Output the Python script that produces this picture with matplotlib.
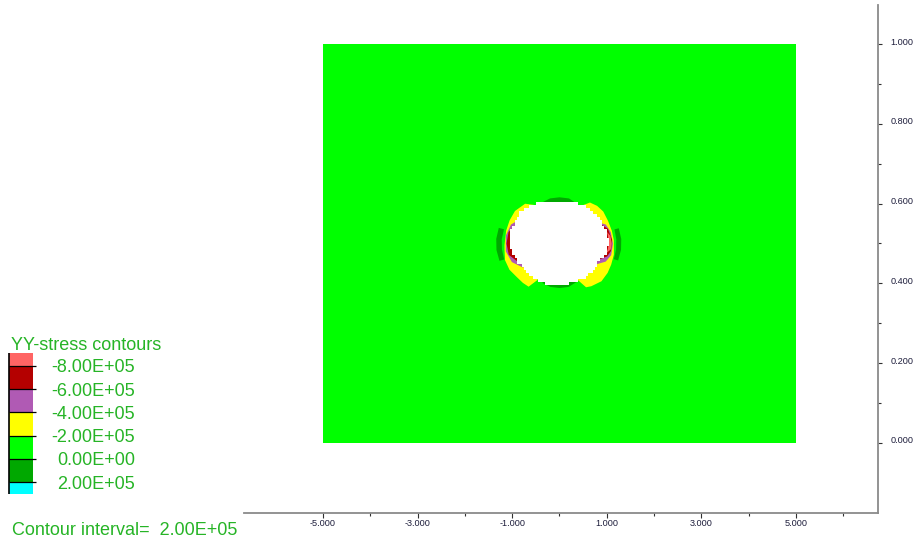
import numpy as np
import matplotlib
matplotlib.use("Agg")
import matplotlib.pyplot as plt
from matplotlib.patches import Polygon
from matplotlib.path import Path
from matplotlib.colors import ListedColormap
from matplotlib.ticker import FixedLocator, FixedFormatter
from matplotlib.transforms import ScaledTranslation

plt.rcParams['font.family'] = ['Liberation Sans', 'DejaVu Sans']
plt.rcParams['axes.unicode_minus'] = False

# ---- contour key -------------------------------------------------------
levels = [-8.0e5, -6.0e5, -4.0e5, -2.0e5, 0.0, 2.0e5]
band_colors = ['#ff6464', '#b40000', '#b05ab4', '#ffff00',
               '#00ff00', '#00a800', '#00ffff']
contour_interval = 2.0e5
title_text = 'YY-stress contours'

# ---- axis ticks --------------------------------------------------------
x_major = [-5.0, -3.0, -1.0, 1.0, 3.0, 5.0]
x_minor = [-4.0, -2.0, 0.0, 2.0, 4.0, 6.0]
y_major = [0.0, 0.2, 0.4, 0.6, 0.8, 1.0]
y_minor = [0.1, 0.3, 0.5, 0.7, 0.9]

# ---- model block and opening ---------------------------------------------
block_x = [-5.0, 5.0]
block_y = [0.0, 1.0]
hole_center = (0.0, 0.5)
hole_axes = (1.057, 0.1054)          # semi-axes of the reference ellipse
zone_size = (0.05, 0.0075)           # zone width / height used for the opening

# opening outline, polar angle (deg) and radius relative to the ellipse
hole_theta = [0, 15, 30, 45, 60, 75, 90, 105, 120, 135, 150, 165,
              180, 195, 210, 225, 240, 255, 270, 285, 300, 315, 330, 345]
hole_r = [0.985, 0.985, 0.995, 1.01, 1.04, 1.03, 1.01, 1.06, 1.09, 1.09,
          1.04, 1.03, 1.02, 0.975, 0.95, 0.95, 1.0, 1.01, 0.99, 0.98,
          0.97, 0.93, 0.905, 0.96]

# -4E5..-2E5 band (yellow), right and left flanks
yel_r_theta = [64, 58, 50, 41, 29, 16, 4, -14, -26, -36, -47, -58, -63, -67]
yel_r_out = [1.0, 1.15, 1.17, 1.16, 1.11, 1.09, 1.09, 1.12, 1.15, 1.19,
             1.23, 1.20, 1.17, 0.95]
yel_l_theta = [119, 126, 139, 151, 164, 182, 188, 200, 212, 223, 232, 239, 243]
yel_l_out = [1.05, 1.17, 1.18, 1.14, 1.11, 1.10, 1.11, 1.16, 1.18, 1.17,
             1.19, 1.20, 0.98]

# -6E5..-4E5 band (purple)
pur_r_theta = [31, 26, 15, 0, -15, -25, -33]
pur_r_out = [0.95, 1.03, 1.06, 1.07, 1.07, 1.02, 0.90]
pur_l_theta = [147, 155, 170, 190, 205, 218]
pur_l_out = [1.0, 1.07, 1.09, 1.09, 1.05, 0.93]

# -8E5..-6E5 band (dark red)
red_r_theta = [27, 20, 5, -10, -18, -24]
red_r_out = [0.96, 1.03, 1.055, 1.045, 1.0, 0.90]
red_l_theta = [157, 165, 180, 195, 206]
red_l_out = [1.0, 1.055, 1.06, 1.05, 0.95]

# below -8E5 (light red), thin strip on the right wall
pk_theta = [16, 10, 0, -8, -14]
pk_in = [0.99, 0.985, 0.985, 0.975, 0.96]
pk_out = [0.99, 1.035, 1.045, 1.035, 0.96]

# 0..2E5 band (dark green): crown and invert caps, side strips
cap_top_theta = [68, 80, 90, 100, 112]
cap_top_out = [1.0, 1.09, 1.10, 1.09, 1.03]
cap_bot_theta = [250, 260, 270, 280, 292]
cap_bot_out = [1.0, 1.05, 1.06, 1.05, 0.97]
bar_r_theta = [-19, -7, 5, 17]
bar_r_in = [1.15, 1.14, 1.14, 1.15]
bar_r_out = [1.24, 1.24, 1.24, 1.24]
bar_l_theta = [163, 175, 187, 199]
bar_l_in = [1.16, 1.16, 1.16, 1.17]
bar_l_out = [1.27, 1.27, 1.27, 1.27]


def ellipse_xy(theta_deg, r):
    t = np.radians(np.asarray(theta_deg, float))
    r = np.asarray(r, float)
    x = hole_center[0] + hole_axes[0] * r * np.cos(t)
    y = hole_center[1] + hole_axes[1] * r * np.sin(t)
    return np.column_stack([x, y])


def sector(theta, r_out):
    pts = ellipse_xy(theta, r_out)
    return np.vstack([[hole_center], pts])


def band(theta, r_in, r_out):
    return np.vstack([ellipse_xy(theta, r_out), ellipse_xy(theta[::-1], r_in[::-1])])


fig = plt.figure(figsize=(9.18, 5.44), dpi=100)
W, H = 918.0, 544.0

# ---- main plot -------------------------------------------------------------
ax = fig.add_axes([244 / W, (H - 512.7) / H, (877.5 - 244) / W, (512.7 - 5) / H])
ax.set_xlim(-6.670, 6.723)
ax.set_ylim(-0.1757, 1.0986)

ax.fill([block_x[0], block_x[1], block_x[1], block_x[0]],
        [block_y[0], block_y[0], block_y[1], block_y[1]],
        color=band_colors[4], lw=0, zorder=1)

shapes = [
    (sector(yel_r_theta, yel_r_out), 3),
    (sector(yel_l_theta, yel_l_out), 3),
    (sector(cap_top_theta, cap_top_out), 5),
    (sector(cap_bot_theta, cap_bot_out), 5),
    (sector(pur_r_theta, pur_r_out), 2),
    (sector(pur_l_theta, pur_l_out), 2),
    (sector(red_r_theta, red_r_out), 1),
    (sector(red_l_theta, red_l_out), 1),
    (band(pk_theta, pk_in, pk_out), 0),
]
for z, (pts, idx) in enumerate(shapes):
    ax.add_patch(Polygon(pts, closed=True, facecolor=band_colors[idx],
                         edgecolor='none', lw=0, zorder=2 + z * 0.01))

# opening: filled zone by zone, so its outline steps like the mesh
hole_path = Path(ellipse_xy(hole_theta, hole_r))
gx = np.arange(hole_center[0] - 1.4, hole_center[0] + 1.4 + 1e-9, zone_size[0])
gy = np.arange(hole_center[1] - 0.135, hole_center[1] + 0.135 + 1e-9, zone_size[1])
cx, cy = np.meshgrid(0.5 * (gx[:-1] + gx[1:]), 0.5 * (gy[:-1] + gy[1:]))
inside = hole_path.contains_points(np.column_stack([cx.ravel(), cy.ravel()]))
mask = np.ma.masked_where(~inside.reshape(cx.shape), np.ones(cx.shape))
ax.pcolormesh(gx, gy, mask, cmap=ListedColormap(['white']), shading='flat',
              antialiased=False, zorder=3)

for pts in (band(bar_r_theta, bar_r_in, bar_r_out),
            band(bar_l_theta, bar_l_in, bar_l_out)):
    ax.add_patch(Polygon(pts, closed=True, facecolor=band_colors[5],
                         edgecolor='none', zorder=3.5))

axis_gray = '#8a8a8a'
for side in ('top', 'left'):
    ax.spines[side].set_visible(False)
for side in ('bottom', 'right'):
    ax.spines[side].set_color(axis_gray)
    ax.spines[side].set_linewidth(1.3)
ax.set_facecolor('white')

ax.xaxis.set_major_locator(FixedLocator(x_major))
ax.xaxis.set_major_formatter(FixedFormatter([f'{v:.3f}' for v in x_major]))
ax.xaxis.set_minor_locator(FixedLocator(x_minor))
ax.yaxis.tick_right()
ax.yaxis.set_major_locator(FixedLocator(y_major))
ax.yaxis.set_major_formatter(FixedFormatter([f'{v:.3f}' for v in y_major]))
ax.yaxis.set_minor_locator(FixedLocator(y_minor))

tick_col = '#303030'
lab_col = '#1e1e3c'
ax.tick_params(axis='x', which='major', direction='out', length=3.6, width=0.8,
               color=tick_col, labelsize=6.6, labelcolor=lab_col, pad=1.0)
ax.tick_params(axis='x', which='minor', direction='out', length=2.4, width=0.8,
               color=tick_col)
ax.tick_params(axis='y', which='major', direction='out', length=3.2, width=0.8,
               color=tick_col, labelsize=6.6, labelcolor=lab_col, pad=6.0,
               left=False, right=True)
ax.tick_params(axis='y', which='minor', direction='out', length=2.2, width=0.8,
               color=tick_col, left=False, right=True)
lift = ScaledTranslation(0, 0.03, fig.dpi_scale_trans)
for lab in ax.get_yticklabels():
    lab.set_transform(lab.get_transform() + lift)

# ---- contour key -----------------------------------------------------------
key_top = levels[0] - 1.12e5
key_bot = levels[-1] + 1.01e5
kx0, kx1, ky0, ky1 = 9.3, 36.0, 352.7, 494.0
kax = fig.add_axes([kx0 / W, (H - ky1) / H, (kx1 - kx0) / W, (ky1 - ky0) / H])
kax.set_xlim(0, 1)
kax.set_ylim(key_bot, key_top)
kax.axis('off')

edges = [key_top] + levels + [key_bot]
for i, col in enumerate(band_colors):
    kax.bar(0.0, edges[i + 1] - edges[i], bottom=edges[i], width=0.9,
            align='edge', color=col, edgecolor='none')
kax.hlines(levels, 0.0, 1.0, colors='black', lw=0.9, clip_on=False)
kax.vlines(0.0, key_bot, key_top, colors='black', lw=1.2, clip_on=False)

txt_green = '#26b426'
drop = ScaledTranslation(0, -0.02, fig.dpi_scale_trans)
label_x = (135.0 - kx0) / (kx1 - kx0)
for lv in levels:
    kax.text(label_x, lv, f'{lv:.2E}', transform=kax.get_yaxis_transform() + drop,
             ha='right', va='center', fontsize=13, color=txt_green, clip_on=False)

fig.text(11 / W, 1 - 346 / H, title_text, ha='left', va='center',
         fontsize=13, color=txt_green)
fig.text(12 / W, 1 - 530.5 / H, f'Contour interval=  {contour_interval:.2E}',
         ha='left', va='center', fontsize=13, color=txt_green)

fig.savefig('out.png', dpi=100, facecolor='white')
